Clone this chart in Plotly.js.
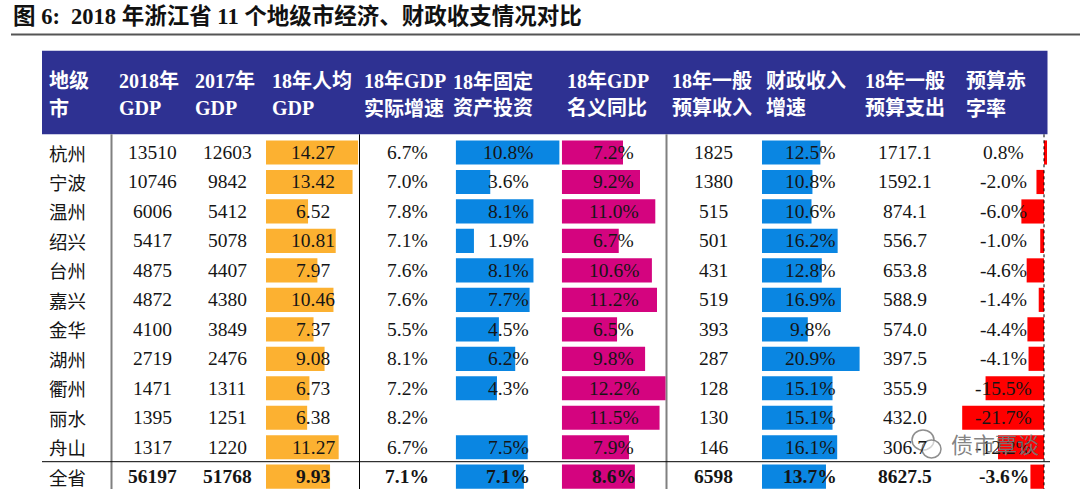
<!DOCTYPE html>
<html>
<head>
<meta charset="utf-8">
<script src="https://cdn.plot.ly/plotly-3.0.1.min.js"></script>
<style>html,body{margin:0;padding:0;background:#fff;}</style>
</head>
<body>
<div id="chart" style="width:1080px;height:489px;"></div>
<script>
// ---------- data ----------
const cities = ['杭州','宁波','温州','绍兴','台州','嘉兴','金华','湖州','衢州','丽水','舟山','全省'];
const gdp2018 = [13510,10746,6006,5417,4875,4872,4100,2719,1471,1395,1317,56197];
const gdp2017 = [12603,9842,5412,5078,4407,4380,3849,2476,1311,1251,1220,51768];
const gdpPerCapita = [14.27,13.42,6.52,10.81,7.97,10.46,7.37,9.08,6.73,6.38,11.27,9.93];
const realGrowth = [6.7,7.0,7.8,7.1,7.6,7.6,5.5,8.1,7.2,8.2,6.7,7.1];
const fixedInvest = [10.8,3.6,8.1,1.9,8.1,7.7,4.5,6.2,4.3,null,7.5,7.1];
const nominalGrowth = [7.2,9.2,11.0,6.7,10.6,11.2,6.5,9.8,12.2,11.5,7.9,8.6];
const budgetRevenue = [1825,1380,515,501,431,519,393,287,128,130,146,6598];
const revenueGrowth = [12.5,10.8,10.6,16.2,12.8,16.9,9.8,20.9,15.1,15.1,16.1,13.7];
const budgetExpend = [1717.1,1592.1,874.1,556.7,653.8,588.9,574.0,397.5,355.9,432.0,306.7,8627.5];
const deficitRate = [0.8,-2.0,-6.0,-1.0,-4.6,-1.4,-4.4,-4.1,-15.5,-21.7,-12.2,-3.6];
const headers = [
  ['地级','市'], ['2018年','GDP'], ['2017年','GDP'], ['18年人均','GDP'],
  ['18年GDP','实际增速'], ['18年固定','资产投资'], ['18年GDP','名义同比'],
  ['18年一般','预算收入'], ['财政收入','增速'], ['18年一般','预算支出'], ['预算赤','字率']
];
const titleText = '图 6:  2018 年浙江省 11 个地级市经济、财政收支情况对比';
const watermark = '债市覃谈';

// ---------- helpers ----------
const W = 1080, H = 489;
const px = x => x / W;
const py = y => 1 - y / H;
const FONT = "'Liberation Serif', 'Noto Sans CJK SC', serif";
const CJK = "'Noto Sans CJK SC', 'Liberation Serif', sans-serif";
const rows = cities.map((c, i) => i);
const last = cities.length - 1;

const pct = v => (v === null ? '' : v.toFixed(1) + '%');

// ---------- bar traces ----------
function barTrace(vals, color, xa) {
  return {
    type: 'bar', orientation: 'h', y: rows, x: vals, xaxis: xa, yaxis: 'y',
    width: 0.82, marker: {color: color, line: {width: 0}}, hoverinfo: 'skip'
  };
}
const data = [
  barTrace(gdpPerCapita, '#FCB131', 'x'),
  barTrace(fixedInvest, '#0A86E2', 'x2'),
  barTrace(nominalGrowth, '#D4047F', 'x3'),
  barTrace(revenueGrowth, '#0A86E2', 'x4'),
  barTrace(deficitRate, '#FF0000', 'x5')
];

// ---------- text columns ----------
const annotations = [];
function col(vals, fmt, cx, opts) {
  vals.forEach((v, i) => {
    if (v === null) return;
    const bold = i === last && !(opts && opts.noBold);
    const t = fmt(v);
    annotations.push({
      xref: 'paper', yref: 'y', x: px(cx), y: i,
      text: bold ? '<b>' + t + '</b>' : t,
      showarrow: false, xanchor: (opts && opts.anchor) || 'center', yanchor: 'middle',
      font: {family: (opts && opts.family) || FONT, size: (opts && opts.size) || 19.5, color: '#151515'}
    });
  });
}
col(cities, v => v, 47, {anchor: 'left', family: CJK, size: 18.5, noBold: true});
col(gdp2018, v => String(v), 152);
col(gdp2017, v => String(v), 227);
col(gdpPerCapita, v => v.toFixed(2), 313);
col(realGrowth, pct, 407);
col(fixedInvest, pct, 508);
col(nominalGrowth, pct, 613.5);
col(budgetRevenue, v => String(v), 713.5);
col(revenueGrowth, pct, 810);
col(budgetExpend, v => v.toFixed(1), 905);
col(deficitRate, pct, 1003.5);

// headers
const headerX = [47, 117, 193, 270, 362, 451, 565, 670, 764, 863, 964];
headers.forEach((h, k) => {
  h.forEach((line, j) => {
    annotations.push({
      xref: 'paper', yref: 'paper', x: px(headerX[k]), y: py(j === 0 ? 81.5 : 108),
      text: '<b>' + line + '</b>', showarrow: false, xanchor: 'left', yanchor: 'middle',
      font: {family: FONT, size: 20, color: '#ffffff'}
    });
  });
});

// title
annotations.push({
  xref: 'paper', yref: 'paper', x: px(11), y: py(16),
  text: '<b>' + titleText + '</b>', showarrow: false, xanchor: 'left', yanchor: 'middle',
  font: {family: FONT, size: 22.5, color: '#111111'}
});

// watermark
annotations.push({
  xref: 'paper', yref: 'paper', x: px(995), y: py(443),
  text: watermark, showarrow: false, xanchor: 'center', yanchor: 'middle',
  font: {family: CJK, size: 22, color: 'rgba(120,120,120,0.92)'}
});

// ---------- shapes ----------
const shapes = [
  {type: 'line', xref: 'paper', yref: 'paper', x0: px(11), x1: 1, y0: py(34.5), y1: py(34.5), line: {color: '#555555', width: 2}, layer: 'below'},
  {type: 'rect', xref: 'paper', yref: 'paper', x0: px(42), x1: px(1047.5), y0: py(50.7), y1: py(134.3), fillcolor: '#2E3192', line: {width: 0}, layer: 'below'},
  {type: 'line', xref: 'paper', yref: 'paper', x0: px(111.5), x1: px(111.5), y0: py(134.3), y1: 0, line: {color: '#808080', width: 2}, layer: 'below'},
  {type: 'line', xref: 'paper', yref: 'paper', x0: px(359.5), x1: px(359.5), y0: py(134.3), y1: 0, line: {color: '#000000', width: 1}, layer: 'below'},
  {type: 'line', xref: 'paper', yref: 'paper', x0: px(666.5), x1: px(666.5), y0: py(134.3), y1: 0, line: {color: '#808080', width: 2}, layer: 'below'},
  {type: 'line', xref: 'paper', yref: 'paper', x0: px(42), x1: px(1050), y0: py(461.7), y1: py(461.7), line: {color: '#000000', width: 1}, layer: 'below'},
  {type: 'line', xref: 'x5', yref: 'paper', x0: 0, x1: 0, y0: py(134.3), y1: 0, line: {color: '#000000', width: 1, dash: 'dot'}, layer: 'above'},
  // watermark logo (two speech bubbles)
  {type: 'circle', xref: 'paper', yref: 'paper', x0: px(912), x1: px(934), y0: py(430), y1: py(450), line: {color: 'rgba(130,130,130,0.9)', width: 1.5}, fillcolor: 'rgba(255,255,255,0.6)', layer: 'above'},
  {type: 'circle', xref: 'paper', yref: 'paper', x0: px(922), x1: px(941), y0: py(440), y1: py(458), line: {color: 'rgba(130,130,130,0.9)', width: 1.5}, fillcolor: 'rgba(255,255,255,0.6)', layer: 'above'}
];

// ---------- axes ----------
const hidden = {visible: false, fixedrange: true, showgrid: false, zeroline: false};
const layout = {
  width: W, height: H,
  margin: {l: 0, r: 0, t: 0, b: 0},
  paper_bgcolor: '#ffffff', plot_bgcolor: 'rgba(0,0,0,0)',
  showlegend: false, barmode: 'overlay',
  yaxis: Object.assign({}, hidden, {range: [11.418, -5.175], domain: [0, 1]}),
  xaxis: Object.assign({}, hidden, {anchor: 'y', domain: [px(266), px(360)], range: [0, 94 / 6.45]}),
  xaxis2: Object.assign({}, hidden, {anchor: 'y', domain: [px(455.7), px(560)], range: [0, 104.3 / 9.6]}),
  xaxis3: Object.assign({}, hidden, {anchor: 'y', domain: [px(561.8), px(666)], range: [0, 104.2 / 8.5]}),
  xaxis4: Object.assign({}, hidden, {anchor: 'y', domain: [px(762), px(862)], range: [0, 100 / 4.67]}),
  xaxis5: Object.assign({}, hidden, {anchor: 'y', domain: [px(950), px(1050)], range: [-94 / 3.77, 6 / 3.77]}),
  shapes: shapes,
  annotations: annotations
};

Plotly.newPlot('chart', data, layout, {staticPlot: true, displayModeBar: false});
</script>
</body>
</html>
